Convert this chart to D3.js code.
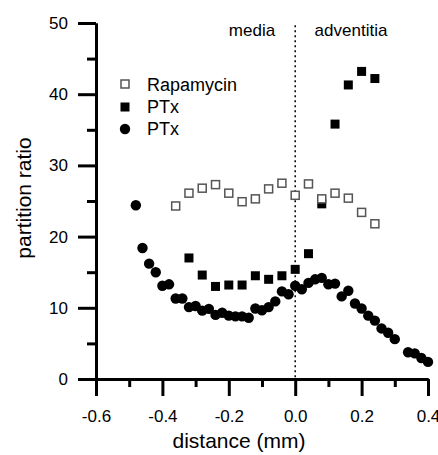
<!DOCTYPE html>
<meta charset="utf-8">
<style>

    body {
        margin: 0;
        background: #fff;
    }

    text {
        font-family: "Liberation Sans", Arial, sans-serif;
        fill: #000;
    }

    .axis path,
    .axis line {
        stroke: #000;
        stroke-width: 3px;
    }

    .axis text {
        font-size: 17px;
    }

    .zero {
        stroke: #000;
        stroke-width: 1.5px;
        stroke-dasharray: 2, 3;
    }

    .rapa {
        fill: #fff;
        stroke: #555;
        stroke-width: 1.5px;
    }

</style>
<body>
<script src="https://cdn.jsdelivr.net/npm/d3@7"></script>
<script>

    // distance (mm) and partition ratio
    var rapaDist = [-0.36, -0.32, -0.28, -0.24, -0.20, -0.16, -0.12, -0.08, -0.04, 0.00, 0.04, 0.08, 0.12, 0.16, 0.20, 0.24];
    var rapaRatio = [24.3, 26.1, 26.8, 27.3, 26.1, 24.9, 25.3, 26.7, 27.5, 25.8, 27.4, 25.3, 26.1, 25.4, 23.4, 21.8];

    var ptxSqDist = [-0.32, -0.28, -0.24, -0.20, -0.16, -0.12, -0.08, -0.04, 0.00, 0.04, 0.08, 0.12, 0.16, 0.20, 0.24];
    var ptxSqRatio = [17.0, 14.6, 13.0, 13.2, 13.2, 14.5, 14.0, 14.5, 15.4, 17.6, 24.6, 35.8, 41.3, 43.2, 42.2];

    var ptxCircDist = [-0.48, -0.46, -0.44, -0.42, -0.40, -0.38, -0.36, -0.34, -0.32, -0.30,
        -0.28, -0.26, -0.24, -0.22, -0.20, -0.18, -0.16, -0.14, -0.12, -0.10,
        -0.08, -0.06, -0.04, -0.02, 0.00, 0.02, 0.04, 0.06, 0.08, 0.10,
        0.12, 0.14, 0.16, 0.18, 0.20, 0.22, 0.24, 0.26, 0.28, 0.30,
        0.34, 0.36, 0.38, 0.40];
    var ptxCircRatio = [24.4, 18.4, 16.2, 15.0, 13.1, 13.3, 11.3, 11.3, 10.1, 10.25,
        9.6, 9.85, 9.0, 9.3, 8.9, 8.8, 8.8, 8.6, 9.9, 9.65,
        10.1, 10.9, 12.3, 11.9, 13.1, 12.6, 13.5, 14.0, 14.2, 13.3,
        13.4, 11.6, 12.4, 10.6, 9.9, 8.9, 8.2, 7.1, 6.5, 5.6,
        3.75, 3.6, 2.95, 2.4];

    var xMajor = [-0.6, -0.4, -0.2, 0.0, 0.2, 0.4],
            xMinor = [-0.5, -0.3, -0.1, 0.1, 0.3],
            yMajor = [0, 10, 20, 30, 40, 50],
            yMinor = [5, 15, 25, 35, 45];

    var legendLabels = ["Rapamycin", "PTx", "PTx"];

    var width = 438,
            height = 455;

    var x = d3.scaleLinear().domain([-0.6, 0.4]).range([96, 428]),
            y = d3.scaleLinear().domain([0, 50]).range([379, 23]);

    var svg = d3.select("body").append("svg")
            .attr("width", width)
            .attr("height", height);

    function zip(a, b) { return a.map(function(d, i) { return [d, b[i]]; }); }

    // boundary between media and adventitia
    svg.append("line")
            .attr("class", "zero")
            .attr("x1", x(0)).attr("x2", x(0))
            .attr("y1", y(49.7)).attr("y2", y(0));

    svg.append("g")
            .attr("class", "axis")
            .attr("transform", "translate(" + x(-0.6) + ",0)")
            .call(d3.axisLeft(y).tickValues(yMajor).tickSize(18).tickSizeOuter(0).tickPadding(10));

    svg.append("g")
            .attr("class", "axis")
            .attr("transform", "translate(" + x(-0.6) + ",0)")
            .call(d3.axisLeft(y).tickValues(yMinor).tickSize(9).tickSizeOuter(0).tickFormat(""));

    svg.append("g")
            .attr("class", "axis")
            .attr("transform", "translate(0," + y(0) + ")")
            .call(d3.axisBottom(x).tickValues(xMajor).tickSize(17).tickSizeOuter(0).tickPadding(14)
                    .tickFormat(function(d) { return d.toFixed(1); }));

    svg.append("g")
            .attr("class", "axis")
            .attr("transform", "translate(0," + y(0) + ")")
            .call(d3.axisBottom(x).tickValues(xMinor).tickSize(8).tickSizeOuter(0).tickFormat(""));

    svg.selectAll(".axis text").attr("font-family", "Liberation Sans, Arial, sans-serif");

    // data
    svg.append("g").selectAll("circle")
            .data(zip(ptxCircDist, ptxCircRatio))
            .enter().append("circle")
            .attr("cx", function(d) { return x(d[0]); })
            .attr("cy", function(d) { return y(d[1]); })
            .attr("r", 5.2)
            .attr("fill", "#000");

    var s = 9;
    svg.append("g").selectAll("rect")
            .data(zip(ptxSqDist, ptxSqRatio))
            .enter().append("rect")
            .attr("x", function(d) { return x(d[0]) - s / 2; })
            .attr("y", function(d) { return y(d[1]) - s / 2; })
            .attr("width", s).attr("height", s)
            .attr("fill", "#000");

    svg.append("g").selectAll("rect")
            .data(zip(rapaDist, rapaRatio))
            .enter().append("rect")
            .attr("class", "rapa")
            .attr("x", function(d) { return x(d[0]) - (s - 1) / 2; })
            .attr("y", function(d) { return y(d[1]) - (s - 1) / 2; })
            .attr("width", s - 1).attr("height", s - 1);

    // legend
    var legend = svg.append("g").attr("transform", "translate(125,84)");
    legend.append("rect").attr("class", "rapa").attr("x", -4).attr("y", -4).attr("width", 8).attr("height", 8);
    legend.append("rect").attr("x", -4.5).attr("y", 23 - 4.5).attr("width", 9).attr("height", 9).attr("fill", "#000");
    legend.append("circle").attr("cx", 0).attr("cy", 45).attr("r", 5.2).attr("fill", "#000");
    legend.selectAll("text")
            .data(legendLabels)
            .enter().append("text")
            .attr("x", 22)
            .attr("y", function(d, i) { return 7 + i * 22; })
            .style("font-size", "18px")
            .text(function(d) { return d; });

    // region labels
    svg.append("text").attr("x", 252).attr("y", 36).attr("text-anchor", "middle")
            .style("font-size", "17px").text("media");
    svg.append("text").attr("x", 351).attr("y", 36).attr("text-anchor", "middle")
            .style("font-size", "17px").text("adventitia");

    // axis titles
    svg.append("text")
            .attr("x", 239).attr("y", 448)
            .attr("text-anchor", "middle")
            .style("font-size", "21px")
            .text("distance (mm)");

    svg.append("text")
            .attr("transform", "translate(31,198)rotate(-90)")
            .attr("text-anchor", "middle")
            .style("font-size", "21px")
            .text("partition ratio");

</script>
</body>
</html>
